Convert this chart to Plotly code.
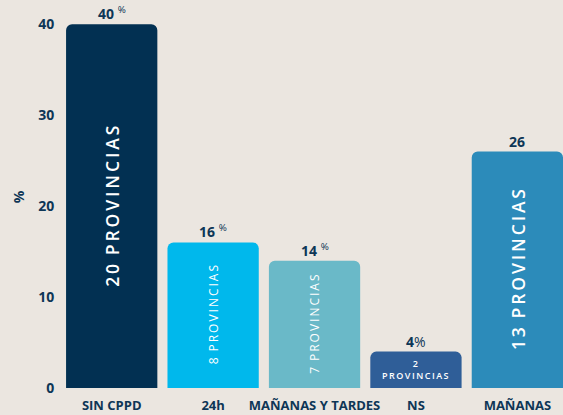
import plotly.graph_objects as go

categories = ["SIN CPPD", "24h", "MAÑANAS Y TARDES", "NS", "MAÑANAS"]
values = [40, 16, 14, 4, 26]
provincias = [20, 8, 7, 2, 13]
value_labels = ["<b>40</b> <sup>%</sup>", "<b>16</b> <sup>%</sup>", "<b>14</b> <sup>%</sup>", "<b>4</b>%", "<b>26</b>"]
colors = ["#023052", "#00B8EC", "#6AB9C8", "#2F5E98", "#2C8BBA"]
inner_sizes = [17.5, 12, 12, 9, 17.5]
inner_weights = [600, 400, 400, 600, 600]

NAVY = "#0E3656"
BG = "#EBE6E0"

def spaced(s):
    return "\u2009".join(list(s))

fig = go.Figure()
fig.add_trace(go.Bar(
    x=categories, y=values,
    marker=dict(color=colors, cornerradius=6, line=dict(width=0)),
    hoverinfo="skip",
))

annotations = []
for c, v, lab, p, fs, fw in zip(categories, values, value_labels, provincias, inner_sizes, inner_weights):
    annotations.append(dict(
        x=c, y=v, text=lab, showarrow=False, yanchor="bottom", yshift=-1,
        font=dict(family="Open Sans", size=14, color=NAVY),
    ))
    if c == "NS":
        txt = spaced(str(p)) + "<br>" + spaced("PROVINCIAS")
        annotations.append(dict(
            x=c, y=v / 2, text=txt, showarrow=False,
            font=dict(family="Open Sans", size=fs, color="white", weight=fw),
        ))
    else:
        txt = spaced(str(p)) + "\u2002" + spaced("PROVINCIAS")
        annotations.append(dict(
            x=c, y=v / 2, text=txt, showarrow=False, textangle=-90,
            font=dict(family="Open Sans", size=fs, color="white", weight=fw),
        ))

fig.update_layout(
    width=563, height=415,
    paper_bgcolor=BG, plot_bgcolor=BG,
    margin=dict(l=61, r=0, t=6, b=27),
    bargap=0.1,
    showlegend=False,
    annotations=annotations,
    xaxis=dict(
        range=[-0.5, 4.45], showgrid=False, zeroline=False, showline=False,
        tickfont=dict(family="Open Sans", size=13, color=NAVY, weight="bold"),
        ticks="outside", ticklen=5, tickcolor="rgba(0,0,0,0)", fixedrange=True,
    ),
    yaxis=dict(
        range=[0, 42], showgrid=False, zeroline=False, showline=False,
        tickvals=[0, 10, 20, 30, 40],
        tickfont=dict(family="Open Sans", size=14, color=NAVY, weight="bold"),
        ticks="outside", ticklen=3, tickcolor="rgba(0,0,0,0)", fixedrange=True,
        title=dict(text="%", font=dict(family="Open Sans", size=14, color=NAVY, weight="bold"), standoff=10),
    ),
)

fig.write_html("out.html", config={"displayModeBar": False},
               post_script="document.body.style.margin='0';document.body.style.background='#EBE6E0';")
